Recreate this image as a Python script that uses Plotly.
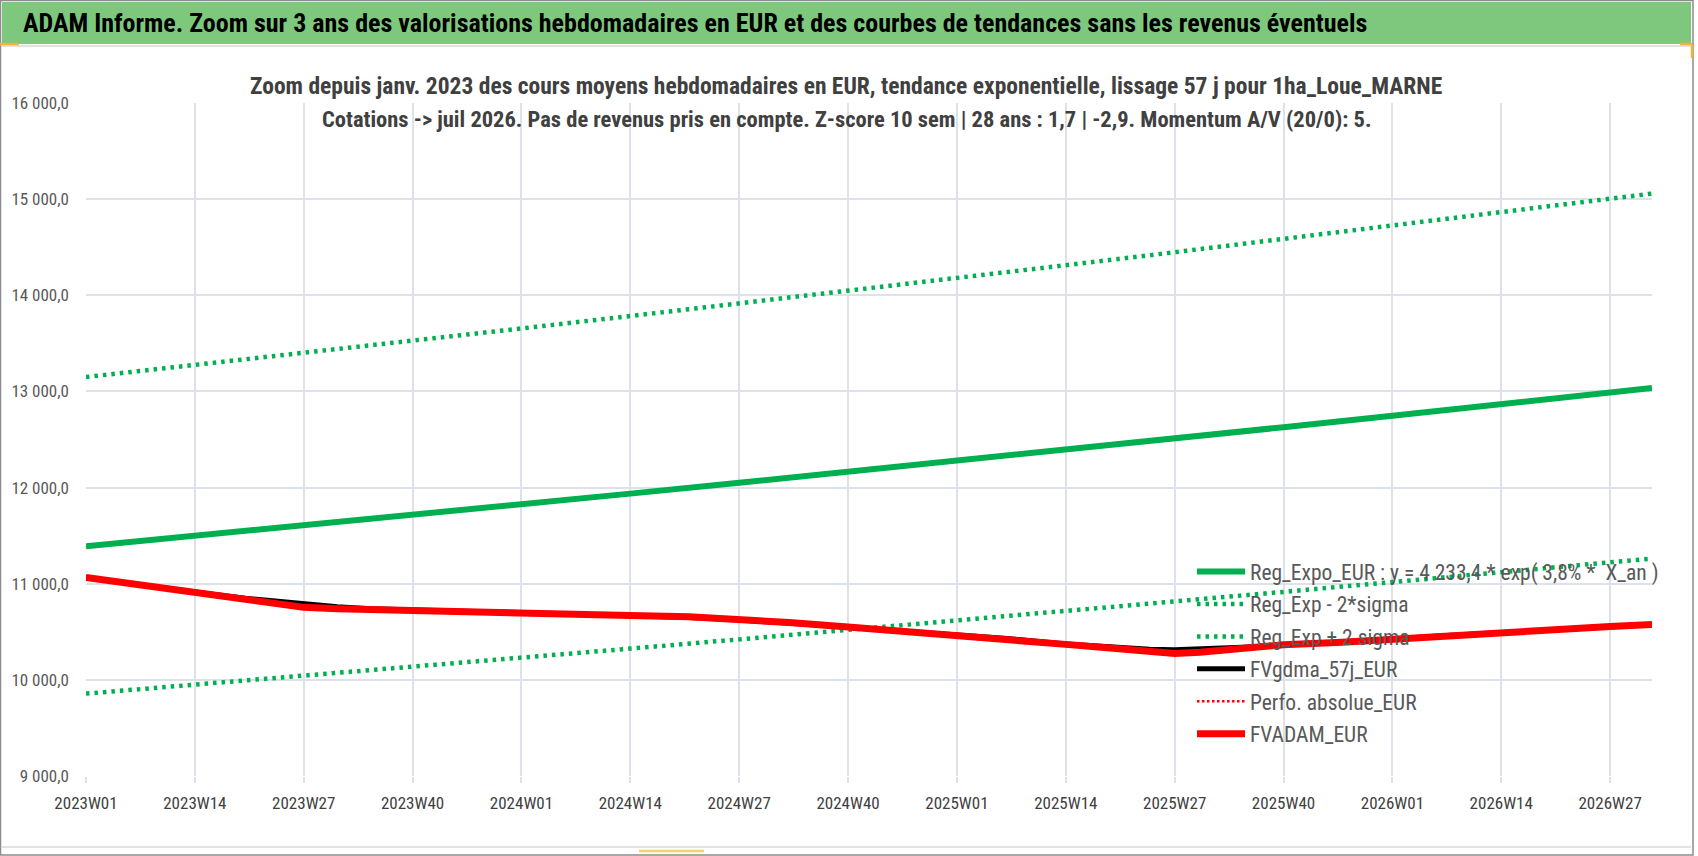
import plotly.graph_objects as go

# Axe des semaines ISO (catégories)
annees_semaines = [(2023, 52), (2024, 52), (2025, 52), (2026, 32)]
categories = [f"{a}W{s:02d}" for a, n in annees_semaines for s in range(1, n + 1)]

tick_semaines = ["2023W01", "2023W14", "2023W27", "2023W40",
                 "2024W01", "2024W14", "2024W27", "2024W40",
                 "2025W01", "2025W14", "2025W27", "2025W40",
                 "2026W01", "2026W14", "2026W27"]

y_ticks = [9000, 10000, 11000, 12000, 13000, 14000, 15000, 16000]

# Courbes de tendance lues aux semaines repères
semaines_tendance = tick_semaines + ["2026W32"]
reg_expo = [11390, 11497, 11606, 11715, 11826, 11937, 12050, 12163,
            12278, 12394, 12510, 12628, 12747, 12867, 12989, 13035]
reg_moins_2sigma = [9857, 9949, 10041, 10135, 10229, 10325, 10421, 10518,
                    10616, 10715, 10815, 10915, 11017, 11119, 11223, 11262]
reg_plus_2sigma = [13150, 13274, 13400, 13527, 13655, 13784, 13914, 14046,
                   14179, 14313, 14448, 14585, 14723, 14862, 15003, 15058]

# Valorisations
semaines_cours = ["2023W01", "2023W07", "2023W14", "2023W20", "2023W27", "2023W31",
                  "2023W35", "2023W40", "2023W46", "2024W01", "2024W07", "2024W14",
                  "2024W21", "2024W27", "2024W33", "2024W40", "2024W46", "2025W01",
                  "2025W07", "2025W14", "2025W20", "2025W24", "2025W27", "2025W30",
                  "2025W35", "2025W40", "2025W47", "2026W01", "2026W07", "2026W14",
                  "2026W20", "2026W27", "2026W32"]
fvadam = [11065, 10990, 10905, 10826, 10754, 10740, 10730, 10722, 10712, 10700, 10688,
          10670, 10656, 10635, 10597, 10550, 10510, 10472, 10430, 10369, 10325, 10296,
          10275, 10288, 10335, 10365, 10392, 10425, 10460, 10495, 10525, 10555, 10577]
fvgdma = [11065, 10992, 10915, 10850, 10790, 10760, 10740, 10725, 10713, 10700, 10688,
          10670, 10648, 10622, 10592, 10550, 10510, 10472, 10430, 10372, 10336, 10318,
          10312, 10318, 10340, 10362, 10392, 10425, 10460, 10492, 10522, 10550, 10572]
perfo_absolue = fvadam

FONT = "Liberation Sans Narrow, Arial Narrow, Roboto Condensed, sans-serif"
VERT = "#00B050"
GRILLE = "#DDE2EA"

# marges de la zone de tracé (px)
PL, PR, PT, PB = 86, 46, 103, 80
LARG = 1698 - PL - PR
HAUT = 856 - PT - PB


def fx(px):
    return (px - PL) / LARG


def fy(py):
    return 1 - (py - PT) / HAUT


fig = go.Figure()
fig.add_trace(go.Scatter(x=semaines_tendance, y=reg_expo, mode="lines",
                         name="Reg_Expo_EUR : y = 4 233,4 * exp( 3,8% *  X_an )",
                         line=dict(color=VERT, width=6), legendgroup="a"))
fig.add_trace(go.Scatter(x=semaines_tendance, y=reg_moins_2sigma, mode="lines",
                         name="Reg_Exp - 2*sigma",
                         line=dict(color=VERT, width=4.5, dash="3.5px,5px"), legendgroup="b"))
fig.add_trace(go.Scatter(x=semaines_tendance, y=reg_plus_2sigma, mode="lines",
                         name="Reg_Exp + 2 sigma",
                         line=dict(color=VERT, width=4.5, dash="3.5px,5px"), legendgroup="c"))
fig.add_trace(go.Scatter(x=semaines_cours, y=fvgdma, mode="lines",
                         name="FVgdma_57j_EUR",
                         line=dict(color="#000000", width=5), legendgroup="d"))
fig.add_trace(go.Scatter(x=semaines_cours, y=perfo_absolue, mode="lines",
                         name="Perfo. absolue_EUR",
                         line=dict(color="#FF0000", width=2.5, dash="2.5px,2.5px"), legendgroup="e"))
fig.add_trace(go.Scatter(x=semaines_cours, y=fvadam, mode="lines",
                         name="FVADAM_EUR",
                         line=dict(color="#FF0000", width=7), legendgroup="f"))

shapes = [
    # cadre extérieur
    dict(type="rect", x0=fx(0.5), x1=fx(1693), y0=fy(0.5), y1=fy(855), line=dict(color="#8C8C8C", width=1.5)),
    # bandeau vert du titre
    dict(type="rect", x0=fx(2), x1=fx(1691), y0=fy(2), y1=fy(44), fillcolor="#7EC87E", line=dict(width=0)),
    dict(type="line", x0=fx(2), x1=fx(1691), y0=fy(46), y1=fy(46), line=dict(color="#D9D9D9", width=1.5)),
    dict(type="line", x0=fx(2), x1=fx(1691), y0=fy(847), y1=fy(847), line=dict(color="#D9D9D9", width=1.5)),
    # poignées de sélection
    dict(type="line", x0=fx(0), x1=fx(19), y0=fy(44), y1=fy(44), line=dict(color="#F5B335", width=2.5)),
    dict(type="line", x0=fx(1680), x1=fx(1692), y0=fy(44), y1=fy(44), line=dict(color="#F5B335", width=2.5)),
    dict(type="line", x0=fx(1692), x1=fx(1692), y0=fy(44), y1=fy(58), line=dict(color="#F5B335", width=2.5)),
    dict(type="line", x0=fx(639), x1=fx(704), y0=fy(851), y1=fy(851), line=dict(color="#F5D36B", width=2.5)),
    # fond blanc du sous-titre (masque la grille)
    dict(type="rect", x0=fx(266), x1=fx(1427), y0=fy(50), y1=fy(138), fillcolor="white",
         line=dict(width=0), layer="between"),
]

annotations = [
    dict(text="<b>ADAM Informe. Zoom sur 3 ans des valorisations hebdomadaires en EUR et des courbes de tendances sans les revenus éventuels</b>",
         x=fx(21), y=fy(23), xanchor="left", yanchor="middle", showarrow=False,
         font=dict(family=FONT, size=26, color="#000000")),
    dict(text="<b>Zoom depuis janv. 2023 des cours moyens hebdomadaires en EUR, tendance exponentielle, lissage 57 j pour 1ha_Loue_MARNE</b>",
         x=fx(846), y=fy(86), xanchor="center", yanchor="middle", showarrow=False,
         font=dict(family=FONT, size=23.5, color="#404040")),
    dict(text="<b>Cotations -> juil 2026. Pas de revenus pris en compte. Z-score 10 sem | 28 ans : 1,7 | -2,9. Momentum A/V (20/0): 5.</b>",
         x=fx(846), y=fy(119), xanchor="center", yanchor="middle", showarrow=False,
         font=dict(family=FONT, size=22.5, color="#404040")),
]
for a in annotations:
    a["xref"] = "paper"
    a["yref"] = "paper"
for s in shapes:
    s["xref"] = "paper"
    s["yref"] = "paper"

fig.update_layout(
    width=1698, height=856,
    margin=dict(l=PL, r=PR, t=PT, b=PB),
    paper_bgcolor="white", plot_bgcolor="white",
    font=dict(family=FONT, color="#595959"),
    separators=", ",
    shapes=shapes,
    annotations=annotations,
    showlegend=True,
    legend=dict(x=fx(1192), y=fy(551), xanchor="left", yanchor="top",
                bgcolor="rgba(0,0,0,0)", font=dict(family=FONT, size=21.5, color="#595959"),
                itemwidth=48, tracegroupgap=1.5, traceorder="grouped"),
)
fig.update_xaxes(type="category", categoryorder="array", categoryarray=categories,
                 range=[0, len(categories) - 1], tickvals=tick_semaines, ticktext=tick_semaines,
                 showgrid=True, gridcolor=GRILLE, gridwidth=1.5, ticks="outside", ticklen=6,
                 tickcolor=GRILLE, tickwidth=1.5, showline=False, zeroline=False,
                 tickfont=dict(family=FONT, size=17, color="#404040"), ticklabelstandoff=6)
fig.update_yaxes(range=[9000, 16000], tickvals=y_ticks, tickformat=",.1f",
                 showgrid=True, gridcolor=GRILLE, gridwidth=1.5, zeroline=False, showline=False,
                 tickfont=dict(family=FONT, size=17, color="#595959"), ticklabelstandoff=16)

fig.write_html("out.html", config={"displayModeBar": False},
               post_script="document.body.style.margin='0';")
